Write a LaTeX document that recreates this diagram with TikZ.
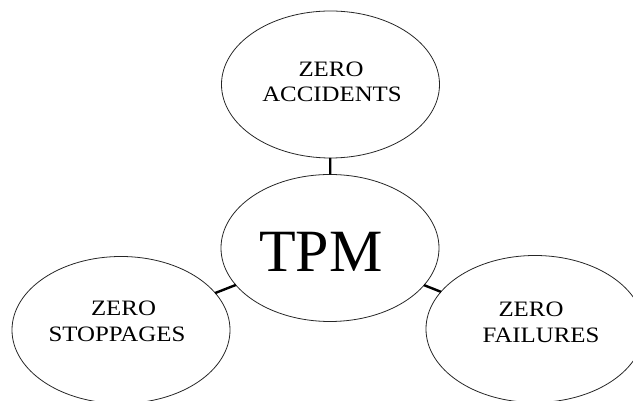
\documentclass[tikz,border=0pt]{standalone}
\usepackage{fontspec}
\setmainfont{Liberation Serif}
\usetikzlibrary{shapes.geometric}
\newcommand\goaltext[1]{\scalebox{1.13}[1]{#1}}
\tikzset{
  goal/.style={draw=black!85, line width=0.8pt, ellipse, inner sep=0pt, outer sep=0pt,
               minimum width=218pt, minimum height=147pt},
  goalline/.style={anchor=base, inner sep=0pt, font=\fontsize{22}{24}\selectfont},
  link/.style={line width=2.4pt, black}
}
\begin{document}
\begin{tikzpicture}[x=1pt,y=1pt]
  \useasboundingbox (0,0) rectangle (633,401);
  % the four ellipses
  \node[goal] (acc) at (330.5,316.5) {};
  \node[goal] (tpm) at (330,153) {};
  \node[goal] (stop) at (121,71) {};
  \node[goal] (fail) at (535,72) {};
  % connectors from the centre ellipse
  \draw[link] (acc) -- (tpm);
  \draw[link] (tpm) -- (stop);
  \draw[link] (tpm) -- (fail);
  % labels
  \node[anchor=base, inner sep=0pt, font=\fontsize{60}{64}\selectfont] (tpmtext) at (321,129) {TPM};
  \node[goalline] (acc1) at (331,324) {\goaltext{ZERO}};
  \node[goalline] (acc2) at (332,299) {\goaltext{ACCIDENTS}};
  \node[goalline] (stop1) at (123.5,85) {\goaltext{ZERO}};
  \node[goalline] (stop2) at (117,59) {\goaltext{STOPPAGES}};
  \node[goalline] (fail1) at (531,84) {\goaltext{ZERO}};
  \node[goalline] (fail2) at (541,58) {\goaltext{FAILURES}};
\end{tikzpicture}
\end{document}
